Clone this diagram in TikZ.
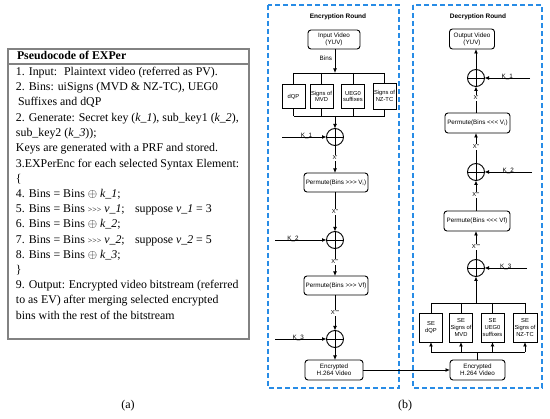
\documentclass[tikz,border=0pt]{standalone}
\usepackage{fontspec}
\setmainfont{Liberation Serif}
\newfontfamily\diagfont{Liberation Sans}
\usetikzlibrary{arrows.meta}
\definecolor{dashblue}{RGB}{40,140,230}
\definecolor{boxgray}{RGB}{130,130,130}
\newcommand{\rsh}{{\fontsize{8}{9}\selectfont\raisebox{0.5pt}{>{}>{}>}}}
\begin{document}
\begin{tikzpicture}[x=1pt,y=-1pt,
  every node/.style={inner sep=0pt,outer sep=0pt},
  code/.style={anchor=base west,font=\fontsize{11.85}{13}\selectfont},
  rbox/.style={draw,rounded corners=3pt,line width=0.9pt,align=center,font=\diagfont\fontsize{6.3}{7.2}\selectfont},
  sbox/.style={draw,line width=0.9pt,align=center,font=\diagfont\fontsize{5.8}{6.6}\selectfont,minimum width=23pt},
  xorc/.style={circle,draw,line width=0.9pt,minimum size=17pt,
    path picture={\draw[line width=0.9pt] (path picture bounding box.north) -- (path picture bounding box.south)
      (path picture bounding box.west) -- (path picture bounding box.east);}},
  wire/.style={line width=0.9pt},
  arr/.style={line width=0.9pt,-{Latex[length=4.5pt,width=4pt]}},
  lbl/.style={font=\diagfont\fontsize{6.3}{7.2}\selectfont},
  xl/.style={font=\diagfont\fontsize{5.8}{6.5}\selectfont,fill=white,inner sep=0.6pt},
  ttl/.style={font=\diagfont\bfseries\fontsize{6.5}{7.5}\selectfont},
  roundbox/.style={draw=dashblue,dashed,dash pattern=on 5pt off 3pt,line width=1.3pt}
]
\useasboundingbox (0,0) rectangle (550,419);

% ---------------- (a) pseudocode ----------------
\draw[boxgray,line width=1.2pt] (8,49) rectangle (249,339);
\draw[boxgray,line width=1.2pt] (8,64) -- (249,64);
\node[code,font=\bfseries\fontsize{11.85}{13}\selectfont] (hdr) at (17,59.5) {Pseudocode of EXPer};
\node[code] (l1) at (16,76) {1. Input:\hspace{7pt}Plaintext video (referred as PV).};
\node[code] (l2) at (16,91) {2. Bins: uiSigns (MVD \& NZ-TC), UEG0};
\node[code] (l3) at (18,106) {Suffixes and dQP};
\node[code] (l4) at (16,122) {2. Generate: Secret key (\textit{k\_1}), sub\_key1 (\textit{k\_2}),};
\node[code] (l5) at (16,137) {sub\_key2 (\textit{k\_3}));};
\node[code] (l6) at (16,152) {Keys are generated with a PRF and stored.};
\node[code] (l7) at (16,168) {3.EXPerEnc for each selected Syntax Element:};
\node[code] (l8) at (16,183) {\{};
\node[code] (l9) at (16,198) {4. Bins = Bins $\oplus$ \textit{k\_1};};
\node[code] (l10) at (16,213) {5. Bins = Bins \rsh{} \textit{v\_1};};
\node[code] (l10b) at (135,213) {suppose \textit{v\_1} = 3};
\node[code] (l11) at (16,228) {6. Bins = Bins $\oplus$ \textit{k\_2};};
\node[code] (l12) at (16,244) {7. Bins = Bins \rsh{} \textit{v\_2};};
\node[code] (l12b) at (135,244) {suppose \textit{v\_2} = 5};
\node[code] (l13) at (16,259) {8. Bins = Bins $\oplus$ \textit{k\_3};};
\node[code] (l14) at (16,274) {\}};
\node[code] (l15) at (16,289) {9. Output: Encrypted video bitstream (referred};
\node[code] (l16) at (16,304) {to as EV) after merging selected encrypted};
\node[code] (l17) at (16,320) {bins with the rest of the bitstream};
\node[font=\fontsize{12}{14}\selectfont] (capa) at (128,406) {(a)};

% ---------------- (b) rounds ----------------
\draw[roundbox] (268,5) rectangle (399,388);
\draw[roundbox] (413,5) rectangle (542,388);
\node[ttl] (tenc) at (338,17) {Encryption Round};
\node[ttl] (tdec) at (478,17) {Decryption Round};
\node[font=\fontsize{12}{14}\selectfont] (capb) at (405,406) {(b)};

% Encryption column
\node[rbox,minimum width=52pt,minimum height=19pt] (inv) at (334,39.5) {Input Video\\(YUV)};
\node[sbox,minimum height=24pt] (dqp) at (293.5,96.5) {dQP};
\node[sbox,minimum height=24pt] (mvd) at (321.5,96.5) {Signs of\\MVD};
\node[sbox,minimum height=24pt] (ueg) at (353,96.5) {UEG0\\suffixes};
\node[sbox,minimum height=26pt] (nzt) at (384.5,96) {Signs of\\NZ-TC};
\coordinate (bt) at (335,73);
\coordinate (bb) at (335,116);
\draw[arr] (inv.south -| bt) -- (bt);
\node[lbl,anchor=east] (binsl) at (332,58) {Bins};
\draw[wire] (293.5,73) -- (384.5,73);
\draw[wire] (293.5,116) -- (384.5,116);
\foreach \b in {dqp,mvd,ueg,nzt}{
  \draw[wire] (\b.north |- bt) -- (\b.north);
  \draw[wire] (\b.south) -- (\b.south |- bb);
}
\node[xorc] (x1) at (335,137) {};
\node[rbox,minimum width=64pt,minimum height=19pt] (p1) at (336,182.5) {Permute(Bins >>> V\textsubscript{i})};
\node[xorc] (x2) at (335,240) {};
\node[rbox,minimum width=64pt,minimum height=19pt] (p2) at (336,285.5) {Permute(Bins >>> Vf)};
\node[xorc] (x3) at (335,339) {};
\node[rbox,minimum width=58pt,minimum height=20pt] (ence) at (334,370) {Encrypted\\H.264 Video};
\coordinate (k1e) at (282,137);
\coordinate (k2e) at (275,240);
\coordinate (k3e) at (275,339);

\draw[arr] (bb) -- (x1.north);
\draw[arr] (k1e) -- (x1.west) node[lbl,pos=0.55,anchor=south,yshift=-2pt] (k1el) {K\_1};
\draw[arr] (x1.south) -- (x1.south |- p1.north);
\draw[arr] (x1.south |- p1.south) -- (x2.north);
\draw[arr] (k2e) -- (x2.west) node[lbl,pos=0.35,anchor=south,yshift=-2pt] (k2el) {K\_2};
\draw[arr] (x2.south) -- (x2.south |- p2.north);
\draw[arr] (x2.south |- p2.south) -- (x3.north);
\draw[arr] (k3e) -- (x3.west) node[lbl,pos=0.45,anchor=south,yshift=-2pt] (k3el) {K\_3};
\draw[arr] (x3.south) -- (x3.south |- ence.north);
\node[xl] (xe1) at (335,158) {X'};
\node[xl] (xe2) at (335,212) {X''};
\node[xl] (xe3) at (335,262) {X'''};
\node[xl] (xe4) at (335,313) {X''''};

% Decryption column
\node[rbox,minimum width=45pt,minimum height=20pt] (outv) at (472,39) {Output Video\\(YUV)};
\node[xorc] (y1) at (476,78) {};
\node[rbox,minimum width=65pt,minimum height=20pt] (q1) at (477.5,123) {Permute(Bins <<< V\textsubscript{i})};
\node[xorc] (y2) at (476,172) {};
\node[rbox,minimum width=66pt,minimum height=20pt] (q2) at (477,221) {Permute(Bins <<< Vf)};
\node[xorc] (y3) at (476,268) {};
\node[sbox,minimum height=29pt] (sdqp) at (431,327.5) {SE\\dQP};
\node[sbox,minimum height=29pt] (smvd) at (461,327.5) {SE\\Signs of\\MVD};
\node[sbox,minimum height=29pt] (sueg) at (492.5,327.5) {SE\\UEG0\\suffixes};
\node[sbox,minimum height=29pt,minimum width=24pt] (snzt) at (525,327.5) {SE\\Signs of\\NZ-TC};
\node[rbox,minimum width=55pt,minimum height=20pt] (encd) at (477.5,370) {Encrypted\\H.264 Video};
\coordinate (dt) at (476,303);
\coordinate (db) at (476,352);
\coordinate (k1d) at (530,78);
\coordinate (k2d) at (532,172);
\coordinate (k3d) at (527,268);

\draw[wire] (431,303) -- (525,303);
\draw[wire] (431,352) -- (525,352);
\foreach \b in {sdqp,smvd,sueg,snzt}{
  \draw[wire] (\b.north |- dt) -- (\b.north);
  \draw[arr] (\b.south |- db) -- (\b.south);
}
\draw[wire] (encd.north) -- (encd.north |- db);
\draw[arr] (dt) -- (y3.south);
\draw[arr] (k3d) -- (y3.east) node[lbl,pos=0.5,anchor=south,yshift=-2pt] (k3dl) {K\_3};
\draw[arr] (y3.north) -- (y3.north |- q2.south);
\draw[arr] (y2.south |- q2.north) -- (y2.south);
\draw[arr] (k2d) -- (y2.east) node[lbl,pos=0.5,anchor=south,yshift=-2pt] (k2dl) {K\_2};
\draw[arr] (y2.north) -- (y2.north |- q1.south);
\draw[arr] (y1.south |- q1.north) -- (y1.south);
\draw[arr] (k1d) -- (y1.east) node[lbl,pos=0.5,anchor=south,yshift=-2pt] (k1dl) {K\_1};
\draw[arr] (y1.north) -- (y1.north |- outv.south);
\node[xl] (xd1) at (476,98) {X'};
\node[xl] (xd2) at (476,147) {X''};
\node[xl] (xd3) at (476,195) {X'''};
\node[xl] (xd4) at (476,247) {X''''};

% link
\draw[arr] (ence.east) -- (encd.west);
\end{tikzpicture}
\end{document}
